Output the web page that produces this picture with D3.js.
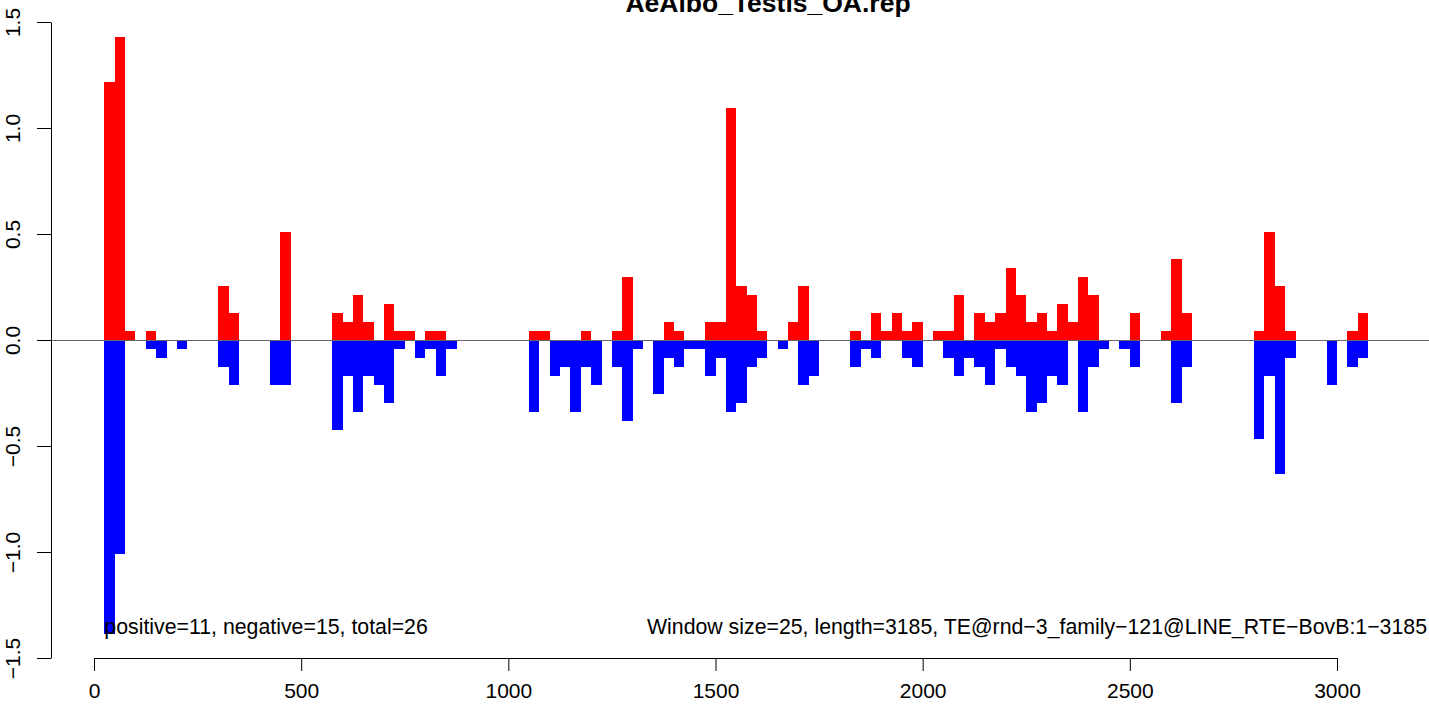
<!DOCTYPE html>
<html>
<head>
<meta charset="utf-8">
<script src="https://cdn.jsdelivr.net/npm/d3@7"></script>
<style>
  body { margin: 0; background: #fff; }
  svg text { font-family: "Liberation Sans", Arial, sans-serif; }
</style>
</head>
<body>
<svg id="chart" width="1429" height="706"></svg>
<script>
// window size 25, bins start at 25*k
const windowSize = 25;
const posBins = [1, 2, 3, 5, 12, 13, 18, 23, 24, 25, 26, 28, 29, 30, 32, 33, 42, 43, 47, 50, 51, 55, 56, 59, 60, 61, 62, 63, 64, 67, 68, 73, 75, 76, 77, 78, 79, 81, 82, 83, 85, 86, 87, 88, 89, 90, 91, 92, 93, 94, 95, 96, 100, 103, 104, 105, 112, 113, 114, 115, 121, 122];
const posValues = [1.217, 1.429, 0.042, 0.042, 0.255, 0.127, 0.51, 0.127, 0.085, 0.212, 0.085, 0.17, 0.042, 0.042, 0.042, 0.042, 0.042, 0.042, 0.042, 0.042, 0.297, 0.085, 0.042, 0.085, 0.085, 1.094, 0.255, 0.212, 0.042, 0.085, 0.255, 0.042, 0.127, 0.042, 0.127, 0.042, 0.085, 0.042, 0.042, 0.212, 0.127, 0.085, 0.127, 0.34, 0.212, 0.085, 0.127, 0.042, 0.17, 0.085, 0.297, 0.212, 0.127, 0.042, 0.38, 0.127, 0.042, 0.51, 0.255, 0.042, 0.042, 0.127];
const negBins = [1, 2, 5, 6, 8, 12, 13, 17, 18, 23, 24, 25, 26, 27, 28, 29, 31, 32, 33, 34, 42, 44, 45, 46, 47, 48, 50, 51, 52, 54, 55, 56, 57, 58, 59, 60, 61, 62, 63, 64, 66, 68, 69, 73, 74, 75, 78, 79, 82, 83, 84, 85, 86, 87, 88, 89, 90, 91, 92, 93, 95, 96, 97, 99, 100, 104, 105, 112, 113, 114, 115, 119, 121, 122];
const negValues = [-1.387, -1.01, -0.042, -0.085, -0.042, -0.127, -0.212, -0.212, -0.212, -0.425, -0.17, -0.34, -0.17, -0.212, -0.297, -0.042, -0.085, -0.042, -0.17, -0.042, -0.34, -0.17, -0.127, -0.34, -0.127, -0.212, -0.127, -0.38, -0.042, -0.255, -0.085, -0.127, -0.042, -0.042, -0.17, -0.085, -0.34, -0.297, -0.127, -0.085, -0.042, -0.212, -0.17, -0.127, -0.042, -0.085, -0.085, -0.127, -0.085, -0.17, -0.085, -0.127, -0.212, -0.042, -0.127, -0.17, -0.34, -0.297, -0.17, -0.212, -0.34, -0.127, -0.042, -0.042, -0.127, -0.297, -0.127, -0.467, -0.17, -0.632, -0.085, -0.212, -0.127, -0.085];

const xTicks = [0, 500, 1000, 1500, 2000, 2500, 3000];
const yTicks = [-1.5, -1.0, -0.5, 0.0, 0.5, 1.0, 1.5];

const title = "AeAlbo_Testis_OA.rep";
const leftNote = "positive=11, negative=15, total=26";
const rightNote = "Window size=25, length=3185, TE@rnd\u22123_family\u2212121@LINE_RTE\u2212BovB:1\u22123185";

const svg = d3.select("#chart");

const x = d3.scaleLinear().domain([0, 3000]).range([94, 1337]);
const y = d3.scaleLinear().domain([-1.5, 1.5]).range([658, 22]);

const pos = posBins.map((b, i) => ({start: b * windowSize, v: posValues[i]}));
const neg = negBins.map((b, i) => ({start: b * windowSize, v: negValues[i]}));

svg.append("g").attr("shape-rendering", "crispEdges").selectAll("rect")
  .data(pos)
  .join("rect")
  .attr("x", d => x(d.start))
  .attr("width", d => x(d.start + windowSize) - x(d.start))
  .attr("y", d => y(d.v))
  .attr("height", d => y(0) - y(d.v))
  .attr("fill", "#ff0000");

svg.append("g").attr("shape-rendering", "crispEdges").selectAll("rect")
  .data(neg)
  .join("rect")
  .attr("x", d => x(d.start))
  .attr("width", d => x(d.start + windowSize) - x(d.start))
  .attr("y", y(0))
  .attr("height", d => y(d.v) - y(0))
  .attr("fill", "#0000ff");

// zero line
svg.append("line")
  .attr("x1", 51).attr("x2", 1429)
  .attr("y1", y(0) + 0.5).attr("y2", y(0) + 0.5)
  .attr("stroke", "#666")
  .attr("stroke-width", 1);

// axes
const xAxis = svg.append("g")
  .attr("transform", "translate(0,658)")
  .call(d3.axisBottom(x).tickValues(xTicks).tickFormat(d3.format("d")).tickSize(13).tickSizeOuter(0).tickPadding(12));
xAxis.selectAll("text").attr("font-size", 21).attr("fill", "#000");
xAxis.selectAll("line, path").attr("stroke", "#000");

const yAxis = svg.append("g")
  .attr("transform", "translate(51,0)")
  .call(d3.axisLeft(y).tickValues(yTicks).tickFormat(d3.format(".1f")).tickSize(14).tickSizeOuter(0));
yAxis.selectAll("text")
  .attr("font-size", 21)
  .attr("fill", "#000")
  .attr("transform", "rotate(-90)")
  .attr("text-anchor", "middle")
  .attr("x", 0)
  .attr("y", -38)
  .attr("dy", "0.35em")
  .text(d => d3.format(".1f")(d).replace("-", "\u2212"));
yAxis.selectAll("line, path").attr("stroke", "#000");

// title and notes
svg.append("text")
  .attr("x", 768).attr("y", 12)
  .attr("text-anchor", "middle")
  .attr("font-size", 26.5)
  .attr("font-weight", "bold")
  .text(title);

svg.append("text")
  .attr("x", x(25)).attr("y", 634)
  .attr("font-size", 21.3)
  .text(leftNote);

svg.append("text")
  .attr("x", 1427).attr("y", 634)
  .attr("text-anchor", "end")
  .attr("font-size", 21.3)
  .text(rightNote);
</script>
</body>
</html>
